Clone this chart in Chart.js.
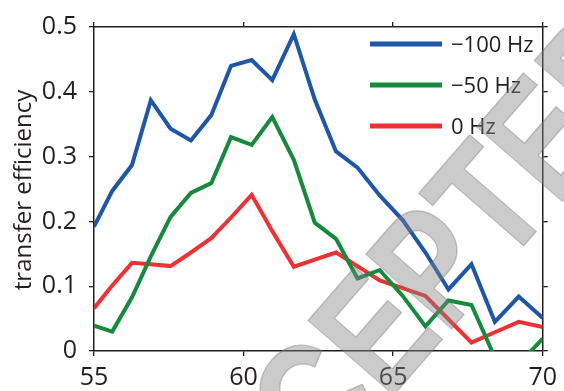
<!DOCTYPE html>
<html>
<head>
<meta charset="utf-8">
<script src="https://cdn.jsdelivr.net/npm/chart.js@4.4.1/dist/chart.umd.min.js"></script>
<style>
  html, body { margin: 0; padding: 0; background: #fff; }
  #wrap { width: 564px; height: 391px; }
</style>
</head>
<body>
<div id="wrap"><canvas id="chart" width="564" height="391"></canvas></div>
<script>
// detuning axis (x) and transfer efficiency for each series
const detuning = [55.0, 55.61, 56.27, 56.9, 57.56, 58.24, 58.92, 59.58, 60.27, 60.96, 61.68,
                  62.38, 63.09, 63.81, 64.55, 65.32, 66.08, 66.85, 67.62, 68.4, 69.2, 70.0];
const eff100 = [0.192, 0.247, 0.287, 0.387, 0.343, 0.325, 0.364, 0.440, 0.449, 0.418, 0.489,
                0.388, 0.308, 0.283, 0.240, 0.202, 0.152, 0.095, 0.134, 0.045, 0.084, 0.051];
const eff50 = [0.039, 0.030, 0.083, 0.146, 0.207, 0.244, 0.259, 0.330, 0.318, 0.361, 0.295,
               0.198, 0.173, 0.112, 0.125, 0.085, 0.038, 0.078, 0.071, -0.010, -0.020, 0.019];
const eff0 = [0.066, 0.101, 0.136, 0.134, 0.131, 0.152, 0.174, 0.206, 0.241, 0.185, 0.130,
              0.141, 0.152, 0.131, 0.109, 0.097, 0.085, 0.049, 0.013, 0.029, 0.045, 0.037];

const seriesLabels = ['\u2212100 Hz', '\u221250 Hz', '0 Hz'];
const seriesColors = ['#1f56a6', '#16893c', '#ee3234'];
const xTicks = [55, 60, 65, 70];
const yTicks = [0, 0.1, 0.2, 0.3, 0.4, 0.5];
const yTitle = 'transfer efficiency';
const stamp = 'ACCEPTED';

const ink = '#231f20';
const FONT = "'Open Sans', 'DejaVu Sans', sans-serif";

function pts(ys) {
    return detuning.map((x, i) => ({ x: x, y: ys[i] }));
}

function axisStyle() {
    return {
        grid: { drawOnChartArea: false, drawTicks: true, tickLength: 5, color: ink, lineWidth: 1.3 },
        border: { display: true, color: ink, width: 1.5 }
    };
}

// legend drawn inside the plot, top right
const insideLegend = {
    id: 'insideLegend',
    afterDatasetsDraw(chart) {
        const ctx = chart.ctx;
        ctx.save();
        ctx.font = '22px ' + FONT;
        ctx.textBaseline = 'middle';
        ctx.textAlign = 'left';
        chart.data.datasets.forEach((ds, i) => {
            const y = 44 + i * 41;
            ctx.strokeStyle = ds.borderColor;
            ctx.lineWidth = 5;
            ctx.beginPath();
            ctx.moveTo(370, y);
            ctx.lineTo(442, y);
            ctx.stroke();
            ctx.fillStyle = ink;
            ctx.fillText(ds.label, 451, y + 2);
        });
        ctx.restore();
    }
};

const yAxisTitle = {
    id: 'yAxisTitle',
    afterDraw(chart) {
        const ctx = chart.ctx;
        ctx.save();
        ctx.translate(31, 190);
        ctx.rotate(-Math.PI / 2);
        ctx.font = '24px ' + FONT;
        ctx.fillStyle = ink;
        ctx.textAlign = 'center';
        ctx.textBaseline = 'alphabetic';
        ctx.fillText(yTitle, 0, 0);
        ctx.restore();
    }
};

const watermark = {
    id: 'watermark',
    afterDraw(chart) {
        const ctx = chart.ctx;
        ctx.save();
        ctx.translate(394, 305);
        ctx.rotate(-49 * Math.PI / 180);
        ctx.scale(0.8, 1);
        ctx.font = "bold 165px 'Liberation Sans', sans-serif";
        ctx.textAlign = 'center';
        ctx.textBaseline = 'alphabetic';
        ctx.fillStyle = 'rgba(130,130,130,0.42)';
        ctx.fillText(stamp, 0, 59);
        ctx.strokeStyle = 'rgba(110,110,110,0.35)';
        ctx.lineWidth = 1.5;
        ctx.strokeText(stamp, 0, 59);
        ctx.restore();
    }
};

new Chart(document.getElementById('chart'), {
    type: 'line',
    data: {
        datasets: [
            { label: seriesLabels[0], data: pts(eff100), borderColor: seriesColors[0] },
            { label: seriesLabels[1], data: pts(eff50), borderColor: seriesColors[1] },
            { label: seriesLabels[2], data: pts(eff0), borderColor: seriesColors[2] }
        ]
    },
    options: {
        responsive: false,
        devicePixelRatio: 1,
        animation: false,
        layout: { padding: 0 },
        datasets: {
            line: { borderWidth: 4, pointRadius: 0, tension: 0, fill: false, clip: 0, borderJoinStyle: 'miter' }
        },
        plugins: {
            legend: { display: false },
            tooltip: { enabled: false }
        },
        scales: {
            x: {
                type: 'linear', position: 'bottom', min: 55, max: 70,
                afterBuildTicks: s => { s.ticks = xTicks.map(v => ({ value: v })); },
                afterFit: s => { s.height = 40; },
                ticks: { font: { family: FONT, size: 25 }, color: ink, padding: 7, maxRotation: 0 },
                ...axisStyle()
            },
            xTop: {
                type: 'linear', axis: 'x', position: 'top', min: 55, max: 70,
                afterBuildTicks: s => { s.ticks = xTicks.map(v => ({ value: v })); },
                afterFit: s => { s.height = 15; },
                ticks: { display: false },
                ...axisStyle()
            },
            y: {
                type: 'linear', position: 'left', min: 0, max: 0.5,
                afterBuildTicks: s => { s.ticks = yTicks.map(v => ({ value: v })); },
                afterFit: s => { s.width = 94; },
                ticks: { font: { family: FONT, size: 25 }, color: ink, padding: 12 },
                ...axisStyle()
            },
            yRight: {
                type: 'linear', axis: 'y', position: 'right', min: 0, max: 0.5,
                afterBuildTicks: s => { s.ticks = yTicks.map(v => ({ value: v })); },
                afterFit: s => { s.width = 13; },
                ticks: { display: false },
                ...axisStyle()
            }
        }
    },
    plugins: [insideLegend, yAxisTitle, watermark]
});
</script>
</body>
</html>
